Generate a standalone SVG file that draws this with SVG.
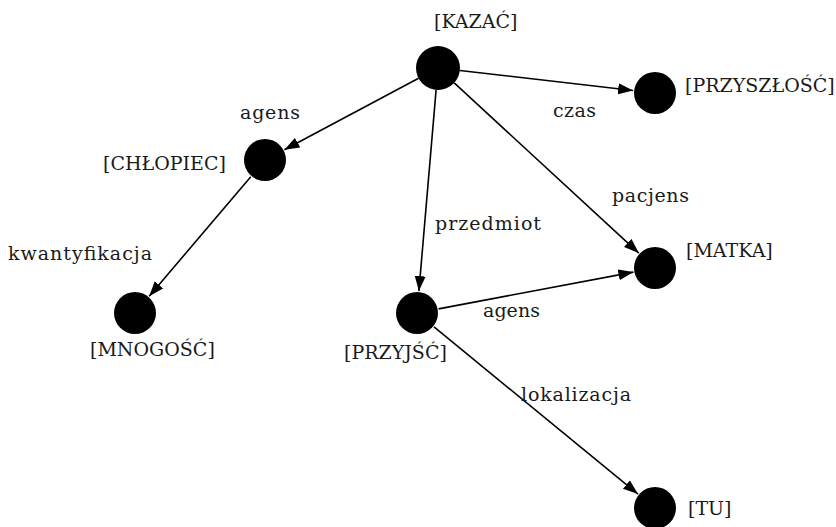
<svg xmlns="http://www.w3.org/2000/svg" width="836" height="527" viewBox="0 0 836 527">
<defs>
<style>
.n{fill:#000}
text{font-family:"DejaVu Serif","Liberation Serif","Noto Serif",serif;font-size:19px;fill:#1a1a1a}
.e{stroke:#000;stroke-width:1.6;fill:none;marker-end:url(#ah)}
</style>
<marker id="ah" markerUnits="userSpaceOnUse" markerWidth="16" markerHeight="12" refX="15" refY="5.5" orient="auto">
<path d="M0,0 L15,5.5 L0,11 Z" fill="#000"/>
</marker>
</defs>
<rect width="836" height="527" fill="#fff"/>
<g id="connectors">
<line class="e" x1="418.6" y1="78.3" x2="284.4" y2="149.7"/>
<line class="e" x1="250.8" y1="176.8" x2="149.2" y2="296.2"/>
<line class="e" x1="436.1" y1="89.9" x2="418.9" y2="291.1"/>
<line class="e" x1="454.2" y1="82.9" x2="638.8" y2="253.1"/>
<line class="e" x1="459.9" y1="70.5" x2="633.1" y2="90.5"/>
<line class="e" x1="438.6" y1="308.9" x2="633.4" y2="272.1"/>
<line class="e" x1="434" y1="326.9" x2="638" y2="494.1"/>
<text x="240" y="119" textLength="60">agens</text>
<text x="8" y="260" textLength="144">kwantyfikacja</text>
<text x="435" y="230" textLength="106">przedmiot</text>
<text x="553" y="117" textLength="43">czas</text>
<text x="612" y="202" textLength="77">pacjens</text>
<text x="483" y="317" textLength="57">agens</text>
<text x="521" y="401" textLength="110">lokalizacja</text>
</g>
<g id="kazac"><circle class="n" cx="438" cy="68" r="22"/><text x="434" y="28">[KAZAĆ]</text></g>
<g id="przyszlosc"><circle class="n" cx="655" cy="93" r="21"/><text x="685" y="92">[PRZYSZŁOŚĆ]</text></g>
<g id="chlopiec"><circle class="n" cx="265" cy="160" r="21"/><text x="103" y="170">[CHŁOPIEC]</text></g>
<g id="mnogosc"><circle class="n" cx="135" cy="313" r="21"/><text x="90" y="356">[MNOGOŚĆ]</text></g>
<g id="przyjsc"><circle class="n" cx="417" cy="313" r="21"/><text x="344" y="359">[PRZYJŚĆ]</text></g>
<g id="matka"><circle class="n" cx="655" cy="268" r="21"/><text x="686" y="257">[MATKA]</text></g>
<g id="tu"><circle class="n" cx="655" cy="508" r="21"/><text x="688" y="515">[TU]</text></g>
</svg>
